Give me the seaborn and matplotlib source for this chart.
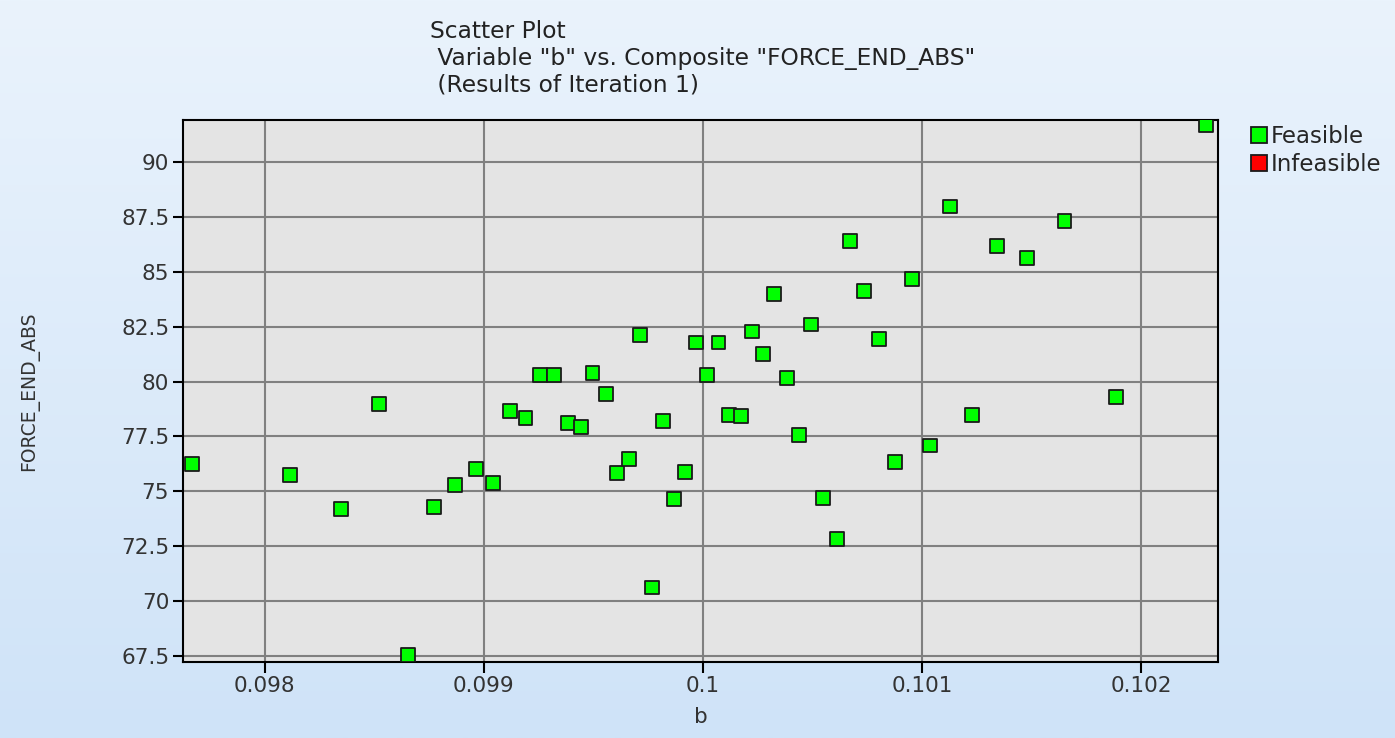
import matplotlib
matplotlib.use("Agg")
import matplotlib.pyplot as plt
from matplotlib.lines import Line2D
import numpy as np
import pandas as pd
import seaborn as sns

# values
b_values = [0.097667, 0.098114, 0.098349, 0.098519, 0.098654, 0.098771, 0.098869,
            0.098962, 0.099041, 0.099120, 0.099190, 0.099255, 0.099322, 0.099384,
            0.099445, 0.099496, 0.099556, 0.099607, 0.099662, 0.099713, 0.099766,
            0.099817, 0.099868, 0.099918, 0.099969, 0.100020, 0.100071, 0.100119,
            0.100174, 0.100223, 0.100276, 0.100325, 0.100382, 0.100437, 0.100494,
            0.100550, 0.100611, 0.100671, 0.100737, 0.100806, 0.100878, 0.100956,
            0.101037, 0.101128, 0.101229, 0.101344, 0.101479, 0.101651, 0.101887,
            0.102297]
force_values = [76.25, 75.73, 74.21, 78.97, 67.55, 74.30, 75.28, 76.02, 75.40, 78.66,
                78.36, 80.30, 80.30, 78.13, 77.95, 80.40, 79.43, 75.85, 76.46, 82.11,
                70.62, 78.21, 74.65, 75.90, 81.78, 80.30, 81.78, 78.49, 78.42, 82.28,
                81.27, 84.00, 80.15, 77.56, 82.60, 74.69, 72.83, 86.41, 84.11, 81.92,
                76.33, 84.68, 77.09, 87.97, 78.46, 86.16, 85.62, 87.33, 79.29, 91.70]
status = ["Feasible"] * len(b_values)

status_levels = ["Feasible", "Infeasible"]
status_colors = {"Feasible": "#00ff00", "Infeasible": "#ff0000"}

x_ticks = [0.098, 0.099, 0.1, 0.101, 0.102]
x_tick_labels = ["0.098", "0.099", "0.1", "0.101", "0.102"]
y_ticks = [67.5, 70, 72.5, 75, 77.5, 80, 82.5, 85, 87.5, 90]
y_tick_labels = ["67.5", "70", "72.5", "75", "77.5", "80", "82.5", "85", "87.5", "90"]

title_lines = ["Scatter Plot",
               ' Variable "b" vs. Composite "FORCE_END_ABS"',
               " (Results of Iteration 1)"]

df = pd.DataFrame({"b": b_values, "FORCE_END_ABS": force_values, "Status": status})

sns.set_style("white")
plt.rcParams["font.family"] = ["DejaVu Sans"]

fig = plt.figure(figsize=(13.95, 7.38), dpi=100)

# light blue gradient background
bg = fig.add_axes([0, 0, 1, 1], zorder=-10)
grad = np.linspace(0, 1, 256).reshape(-1, 1)
top = np.array([234, 243, 252]) / 255
bot = np.array([207, 227, 248]) / 255
img = top + (bot - top) * grad[:, :, None]
bg.imshow(img, aspect="auto", extent=[0, 1, 0, 1])
bg.axis("off")

ax = fig.add_axes([0.1312, 0.103, 0.8731 - 0.1312, 0.8374 - 0.103])
ax.set_facecolor("#e4e4e4")

sns.scatterplot(data=df, x="b", y="FORCE_END_ABS", hue="Status",
                hue_order=status_levels, palette=status_colors, marker="s",
                s=100, edgecolor="#1a1a1a", linewidth=1.3, legend=False, ax=ax,
                zorder=3)

ax.set_xlim(0.097626, 0.102352)
ax.set_ylim(67.23, 91.91)
ax.set_xticks(x_ticks)
ax.set_xticklabels(x_tick_labels)
ax.set_yticks(y_ticks)
ax.set_yticklabels(y_tick_labels)
ax.grid(True, color="#808080", linewidth=1.5)
ax.set_axisbelow(True)
ax.tick_params(axis="x", length=8, pad=2)
ax.tick_params(axis="y", length=7, pad=3)
ax.tick_params(axis="both", direction="out", width=1.5, color="black",
               labelsize=15.5, labelcolor="#333333", left=True, bottom=True)
for sp in ax.spines.values():
    sp.set_color("black")
    sp.set_linewidth(1.5)

ax.set_xlabel("b", fontsize=15.5, color="#333333", labelpad=8)
ax.set_ylabel("FORCE_END_ABS", fontsize=13.5, color="#333333", labelpad=0)
ax.yaxis.set_label_coords(-(183 - 39) / (1218 - 183), 0.5)

for i, line in enumerate(title_lines):
    fig.text(430 / 1395, 1 - (31 + 27 * i) / 738, line, ha="left", va="center",
             fontsize=16.8, color="#222222")

handles = [Line2D([], [], marker="s", linestyle="none", markersize=11,
                  markerfacecolor=status_colors[k], markeredgecolor="#1a1a1a",
                  markeredgewidth=1.3, label=k) for k in status_levels]
fig.legend(handles=handles, loc="upper left", bbox_to_anchor=(1250 / 1395, 1 - 125 / 738),
           frameon=False, fontsize=16.5, handletextpad=0.1, handlelength=0.8,
           labelspacing=0.2, borderaxespad=0, borderpad=0)

fig.savefig("out.png", dpi=100)
